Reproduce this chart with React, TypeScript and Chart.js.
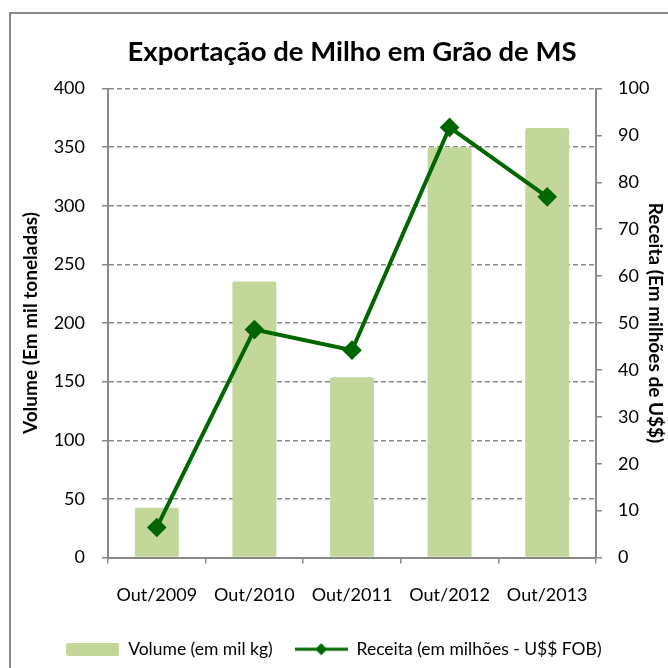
import React, { useEffect, useRef } from "react";
import { Chart, registerables } from "chart.js";

Chart.register(...registerables);

const categories = ["Out/2009", "Out/2010", "Out/2011", "Out/2012", "Out/2013"];
const volumeValues = [42.4, 235.4, 153.7, 349.8, 366.3];
const receitaValues = [6.4, 48.6, 44.2, 91.7, 76.9];
const titleText = "Exportação de Milho em Grão de MS";
const volumeLabel = "Volume (em mil kg)";
const receitaLabel = "Receita (em milhões - U$$ FOB)";
const leftAxisTitle = "Volume (Em mil toneladas)";
const rightAxisTitle = "Receita (Em milhões de U$$)";

const BAR_COLOR = "#c4d79b";
const LINE_COLOR = "#006600";
const AXIS_COLOR = "#898989";
const FONT = "Lato, 'Noto Sans', sans-serif";
const TICK_SIZE = 18;

export default function App() {
  const ref = useRef<HTMLCanvasElement | null>(null);

  useEffect(() => {
    if (!ref.current) return;

    const barIcon = document.createElement("canvas");
    barIcon.width = 53;
    barIcon.height = 13;
    {
      const c = barIcon.getContext("2d")!;
      c.fillStyle = BAR_COLOR;
      c.beginPath();
      (c as any).roundRect ? (c as any).roundRect(0, 0, 53, 13, 2) : c.rect(0, 0, 53, 13);
      c.fill();
    }
    const lineIcon = document.createElement("canvas");
    lineIcon.width = 53;
    lineIcon.height = 16;
    {
      const c = lineIcon.getContext("2d")!;
      c.strokeStyle = LINE_COLOR;
      c.lineWidth = 3;
      c.beginPath();
      c.moveTo(0, 8);
      c.lineTo(53, 8);
      c.stroke();
      c.fillStyle = LINE_COLOR;
      c.beginPath();
      c.moveTo(26.5, 2);
      c.lineTo(32.5, 8);
      c.lineTo(26.5, 14);
      c.lineTo(20.5, 8);
      c.closePath();
      c.fill();
    }

    const chart = new Chart(ref.current, {
      type: "bar",
      data: {
        labels: categories,
        datasets: [
          {
            type: "line",
            label: receitaLabel,
            data: receitaValues,
            yAxisID: "y1",
            borderColor: LINE_COLOR,
            backgroundColor: LINE_COLOR,
            borderWidth: 4,
            pointStyle: "rectRot",
            pointRadius: 7,
            pointBackgroundColor: LINE_COLOR,
            pointBorderColor: LINE_COLOR,
            order: 1,
          } as any,
          {
            type: "bar",
            label: volumeLabel,
            data: volumeValues,
            yAxisID: "y",
            backgroundColor: BAR_COLOR,
            borderRadius: 2,
            barPercentage: 0.45,
            categoryPercentage: 1,
            order: 2,
          },
        ],
      },
      options: {
        responsive: false,
        animation: false,
        layout: { padding: 0 },
        plugins: {
          title: {
            display: true,
            text: titleText,
            fullSize: false,
            color: "#000",
            font: { family: FONT, size: 27.5, weight: "bold" },
            padding: { top: 35.5, bottom: 20 },
          },
          legend: {
            position: "bottom",
            fullSize: true,
            labels: {
              usePointStyle: true,
              pointStyleWidth: 53,
              boxHeight: 13,
              padding: 22,
              color: "#000",
              font: { family: FONT, size: 17.5 },
              generateLabels: () => [
                {
                  text: volumeLabel,
                  pointStyle: barIcon,
                  fillStyle: BAR_COLOR,
                  strokeStyle: BAR_COLOR,
                  lineWidth: 0,
                  hidden: false,
                  datasetIndex: 1,
                },
                {
                  text: receitaLabel,
                  pointStyle: lineIcon,
                  fillStyle: LINE_COLOR,
                  strokeStyle: LINE_COLOR,
                  lineWidth: 0,
                  hidden: false,
                  datasetIndex: 0,
                },
              ] as any,
            },
          },
          tooltip: { enabled: false },
        },
        scales: {
          x: {
            offset: true,
            afterFit: (s: any) => {
              s.height = 61;
            },
            grid: {
              offset: true,
              drawOnChartArea: false,
              drawTicks: true,
              tickLength: 6,
              color: AXIS_COLOR,
              lineWidth: 1.5,
            },
            border: { color: AXIS_COLOR, width: 2 },
            ticks: {
              color: "#000",
              padding: 21,
              font: { family: FONT, size: TICK_SIZE },
            },
          },
          y: {
            position: "left",
            min: 0,
            max: 400,
            afterFit: (s: any) => {
              s.width = 108;
            },
            ticks: {
              stepSize: 50,
              padding: 17,
              color: "#000",
              font: { family: FONT, size: TICK_SIZE },
            },
            grid: {
              color: AXIS_COLOR,
              lineWidth: 1.5,
              tickLength: 6,
              tickBorderDash: [],
            } as any,
            border: { color: AXIS_COLOR, width: 2, dash: [5, 3] },
            title: {
              display: true,
              text: leftAxisTitle,
              color: "#000",
              font: { family: FONT, size: 19, weight: "bold" },
              padding: { top: 19, bottom: 0 },
            },
          },
          y1: {
            position: "right",
            min: 0,
            max: 100,
            afterFit: (s: any) => {
              s.width = 72;
            },
            ticks: {
              stepSize: 10,
              padding: 16,
              color: "#000",
              font: { family: FONT, size: TICK_SIZE },
            },
            grid: {
              drawOnChartArea: false,
              color: AXIS_COLOR,
              lineWidth: 1.5,
              tickLength: 6,
            },
            border: { color: AXIS_COLOR, width: 2 },
            title: {
              display: true,
              text: rightAxisTitle,
              color: "#000",
              font: { family: FONT, size: 19, weight: "bold" },
              padding: { top: 1, bottom: 0 },
            },
          },
        },
      } as any,
    });

    return () => chart.destroy();
  }, []);

  return (
    <div
      style={{
        position: "fixed",
        left: 0,
        top: 0,
        width: 668,
        height: 668,
        overflow: "hidden",
        background: "#fff",
      }}
    >
      <div
        style={{
          position: "absolute",
          left: 9,
          top: 12,
          width: 720,
          height: 720,
          border: "2px solid #898989",
          boxSizing: "border-box",
        }}
      />
      <canvas
        ref={ref}
        width={668}
        height={668}
        style={{ position: "absolute", left: 0, top: 0, width: 668, height: 668 }}
      />
    </div>
  );
}
